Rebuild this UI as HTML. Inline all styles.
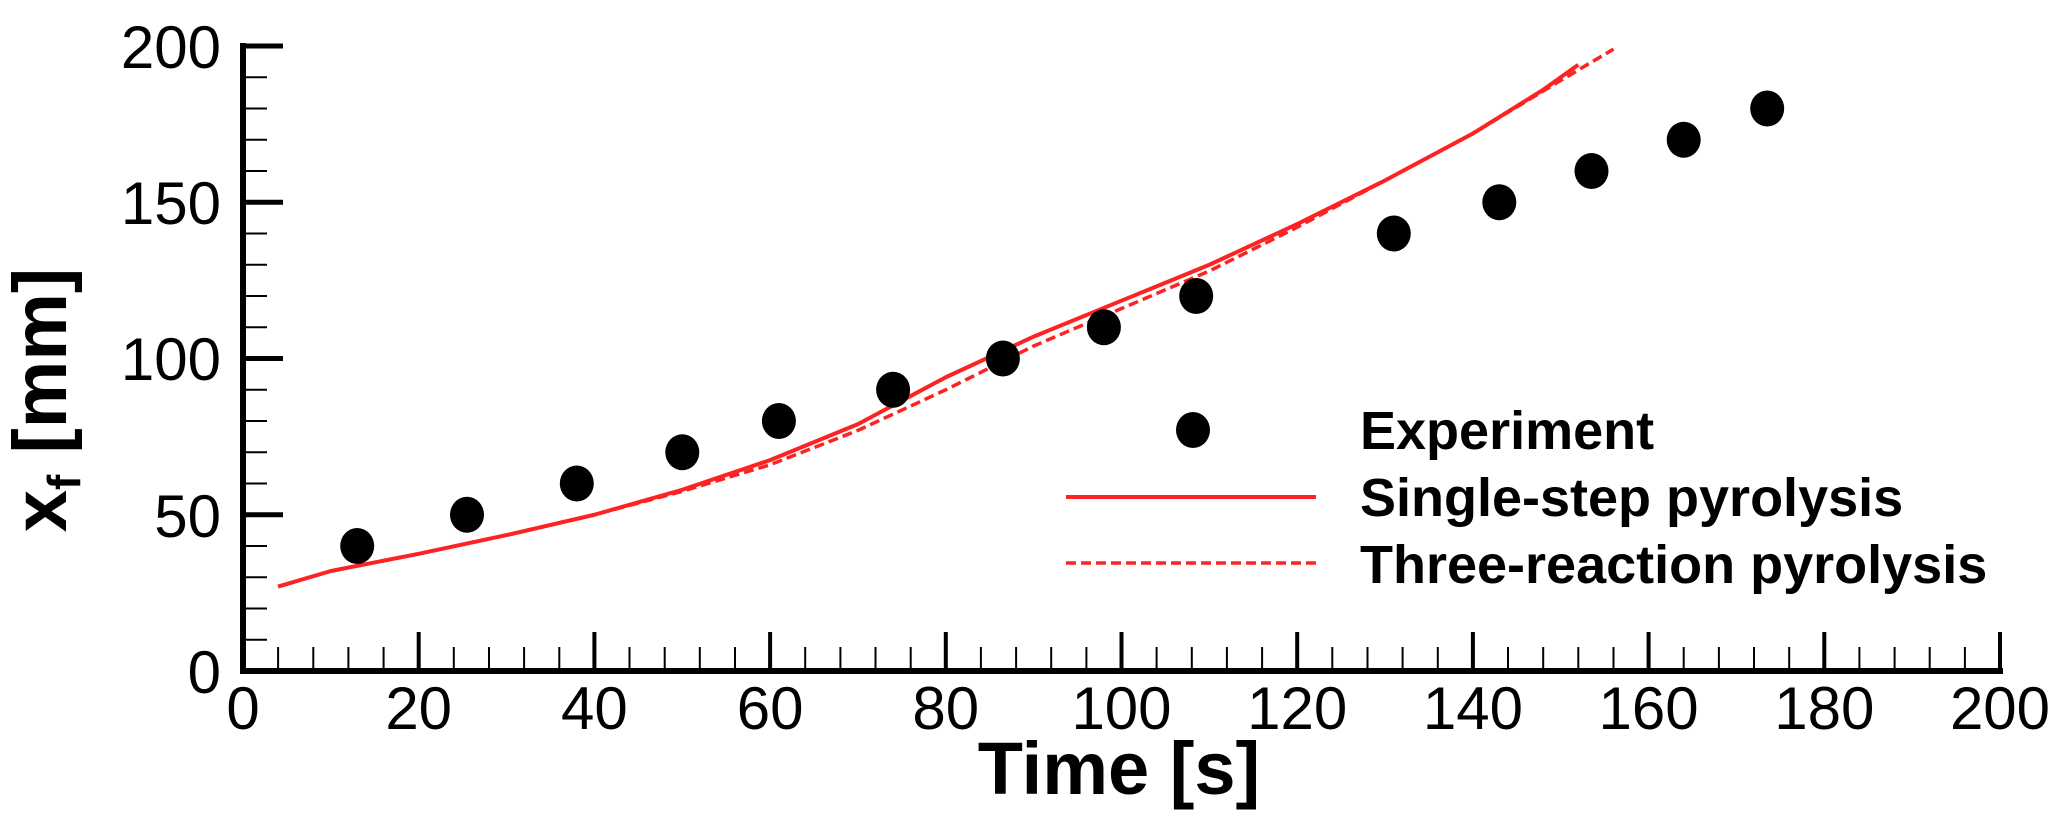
<!DOCTYPE html><html><head><style>body{margin:0;background:#fff}svg{display:block}</style></head><body>
<svg width="2059" height="833" xmlns="http://www.w3.org/2000/svg" font-family="Liberation Sans, sans-serif">
<line x1="243" y1="43" x2="243" y2="674" stroke="#000" stroke-width="6"/>
<line x1="240" y1="671" x2="2003" y2="671" stroke="#000" stroke-width="6"/>
<path d="M278.1 671V647M313.3 671V647M348.4 671V647M383.6 671V647M453.8 671V647M489 671V647M524.1 671V647M559.3 671V647M629.5 671V647M664.7 671V647M699.8 671V647M735 671V647M805.2 671V647M840.4 671V647M875.5 671V647M910.7 671V647M980.9 671V647M1016.1 671V647M1051.2 671V647M1086.4 671V647M1156.6 671V647M1191.8 671V647M1226.9 671V647M1262.1 671V647M1332.3 671V647M1367.5 671V647M1402.6 671V647M1437.8 671V647M1508 671V647M1543.2 671V647M1578.3 671V647M1613.5 671V647M1683.7 671V647M1718.9 671V647M1754 671V647M1789.2 671V647M1859.4 671V647M1894.6 671V647M1929.7 671V647M1964.9 671V647" stroke="#000" stroke-width="2"/>
<path d="M418.7 671V632M594.4 671V632M770.1 671V632M945.8 671V632M1121.5 671V632M1297.2 671V632M1472.9 671V632M1648.6 671V632M1824.3 671V632M2000 671V632" stroke="#000" stroke-width="4"/>
<path d="M243 639.75H267M243 608.5H267M243 577.25H267M243 546H267M243 483.5H267M243 452.25H267M243 421H267M243 389.75H267M243 327.25H267M243 296H267M243 264.75H267M243 233.5H267M243 171H267M243 139.75H267M243 108.5H267M243 77.25H267" stroke="#000" stroke-width="2"/>
<path d="M243 514.75H283M243 358.5H283M243 202.25H283M243 46H283" stroke="#000" stroke-width="5"/>
<g font-size="60" text-anchor="middle">
<text x="243" y="729">0</text><text x="418.7" y="729">20</text><text x="594.4" y="729">40</text><text x="770.1" y="729">60</text><text x="945.8" y="729">80</text><text x="1121.5" y="729">100</text><text x="1297.2" y="729">120</text><text x="1472.9" y="729">140</text><text x="1648.6" y="729">160</text><text x="1824.3" y="729">180</text><text x="2000" y="729">200</text>
</g>
<g font-size="60" text-anchor="end">
<text x="221" y="693">0</text><text x="221" y="537">50</text><text x="221" y="380">100</text><text x="221" y="224">150</text><text x="221" y="68">200</text>
</g>
<text x="1119" y="794" font-size="74" font-weight="bold" text-anchor="middle">Time [s]</text>
<text transform="translate(66,400) rotate(-90)" font-size="76" font-weight="bold" text-anchor="middle">x<tspan font-size="46" dy="14">f</tspan><tspan dy="-14"> [mm]</tspan></text>
<path d="M278.1,586.6 L330.9,571 L418.7,553.8 L506.6,535.1 L594.4,514.75 L682.3,489.75 L770.1,460.1 L858,424.1 L945.8,377.25 L1033.7,336.6 L1121.5,300.7 L1209.4,264.75 L1297.2,224.1 L1385.1,180.4 L1472.9,133.5 L1543.2,89.75 L1578.3,64.75" fill="none" stroke="#f22" stroke-width="4" stroke-linejoin="round"/>
<path d="M278.1,586.6 L330.9,571 L418.7,553.8 L506.6,535.1 L594.4,514.75 L682.3,491.3 L770.1,464.75 L858,430.4 L945.8,389.75 L1033.7,346 L1121.5,308.5 L1209.4,271 L1297.2,227.25 L1385.1,180.4 L1472.9,133.5 L1560.8,80.4 L1613.5,49.1" fill="none" stroke="#f22" stroke-width="3.5" stroke-dasharray="10,5"/>
<g fill="#000">
<ellipse cx="357.2" cy="546" rx="17" ry="18"/><ellipse cx="467" cy="514.75" rx="17" ry="18"/><ellipse cx="576.8" cy="483.5" rx="17" ry="18"/><ellipse cx="682.3" cy="452.25" rx="17" ry="18"/><ellipse cx="778.9" cy="421" rx="17" ry="18"/><ellipse cx="893.1" cy="389.75" rx="17" ry="18"/><ellipse cx="1002.9" cy="358.5" rx="17" ry="18"/><ellipse cx="1103.9" cy="327.25" rx="17" ry="18"/><ellipse cx="1196.2" cy="296" rx="17" ry="18"/><ellipse cx="1393.8" cy="233.5" rx="17" ry="18"/><ellipse cx="1499.3" cy="202.25" rx="17" ry="18"/><ellipse cx="1591.5" cy="171" rx="17" ry="18"/><ellipse cx="1683.7" cy="139.75" rx="17" ry="18"/><ellipse cx="1767.2" cy="108.5" rx="17" ry="18"/>
<ellipse cx="1193" cy="430" rx="17" ry="18"/>
</g>
<line x1="1066" y1="497" x2="1316" y2="497" stroke="#f22" stroke-width="4"/>
<line x1="1066" y1="563" x2="1316" y2="563" stroke="#f22" stroke-width="3.5" stroke-dasharray="10,5"/>
<g font-size="54" font-weight="bold"><text x="1360" y="449">Experiment</text><text x="1360" y="516">Single-step pyrolysis</text><text x="1360" y="583">Three-reaction pyrolysis</text></g>
</svg></body></html>
